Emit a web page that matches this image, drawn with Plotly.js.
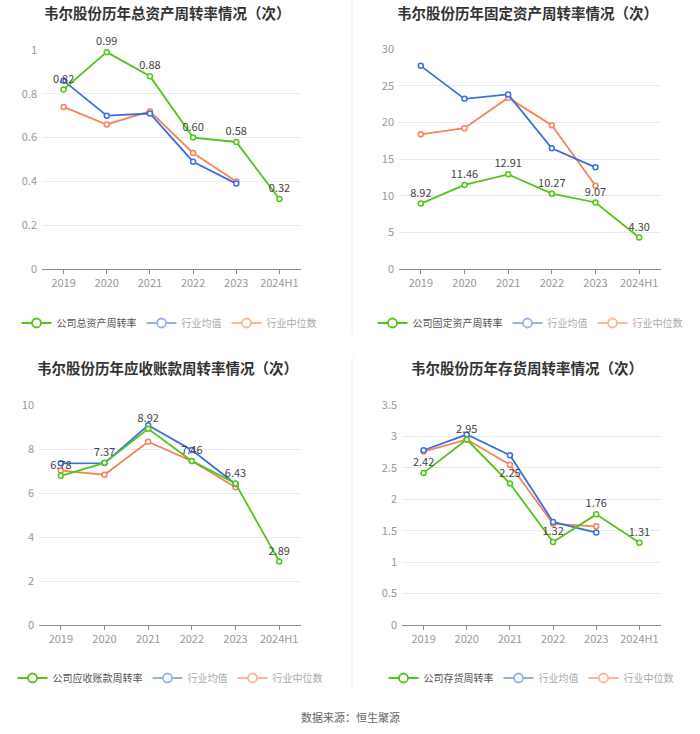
<!DOCTYPE html>
<html>
<head>
<meta charset="utf-8">
<script src="https://cdn.plot.ly/plotly-3.0.1.min.js"></script>
<style>html,body{margin:0;padding:0;background:#fff;}#chart{width:700px;height:734px;}</style>
</head>
<body>
<div id="chart"></div>
<script>
// ---- data ----
const categories = ["2019", "2020", "2021", "2022", "2023", "2024H1"];

const titles = [
  "韦尔股份历年总资产周转率情况（次）",
  "韦尔股份历年固定资产周转率情况（次）",
  "韦尔股份历年应收账款周转率情况（次）",
  "韦尔股份历年存货周转率情况（次）"
];
const companyNames = ["公司总资产周转率", "公司固定资产周转率", "公司应收账款周转率", "公司存货周转率"];
const meanName = "行业均值";
const medianName = "行业中位数";

const totalAssetCompany = [0.82, 0.99, 0.88, 0.60, 0.58, 0.32];
const totalAssetMean    = [0.86, 0.70, 0.71, 0.49, 0.39];
const totalAssetMedian  = [0.74, 0.66, 0.72, 0.53, 0.40];

const fixedAssetCompany = [8.92, 11.46, 12.91, 10.27, 9.07, 4.30];
const fixedAssetMean    = [27.7, 23.2, 23.8, 16.45, 13.86];
const fixedAssetMedian  = [18.36, 19.2, 23.36, 19.6, 11.36];

const receivableCompany = [6.78, 7.37, 8.92, 7.46, 6.43, 2.89];
const receivableMean    = [7.35, 7.36, 9.08, 7.95, 6.41];
const receivableMedian  = [7.02, 6.83, 8.33, 7.45, 6.26];

const inventoryCompany = [2.42, 2.95, 2.25, 1.32, 1.76, 1.31];
const inventoryMean    = [2.78, 3.03, 2.70, 1.64, 1.47];
const inventoryMedian  = [2.76, 2.95, 2.55, 1.61, 1.57];

const yMax  = [1, 30, 10, 3.5];
const yStep = [0.2, 5, 2, 0.5];

// ---- styling / layout ----
const W = 700, H = 734;
const GREEN = "#52c41a", BLUE = "#3b6fe0", ORANGE = "#f6845a";
const GREEN_L = "#52c41a", BLUE_L = "#93b2f3", ORANGE_L = "#fbb69c";
const FONT = "Noto Sans CJK SC, Noto Sans, sans-serif";

// pixel boxes [left, right, top, bottom]
const boxes = [
  [42, 301, 50, 269],
  [399, 661, 49, 269],
  [39, 301, 405, 625],
  [402, 661, 405, 625]
];
const titlePos = [[167, 12], [527, 12], [167, 367], [527, 367]];
const legendPos = [[169, 323], [530, 323], [170, 678], [531, 678]];

const series = [
  [totalAssetCompany, totalAssetMean, totalAssetMedian],
  [fixedAssetCompany, fixedAssetMean, fixedAssetMedian],
  [receivableCompany, receivableMean, receivableMedian],
  [inventoryCompany, inventoryMean, inventoryMedian]
];

const px = x => x / W;
const py = y => 1 - y / H;

const traces = [];
const layout = {
  width: W, height: H,
  margin: {l: 0, r: 0, t: 0, b: 0},
  paper_bgcolor: "#fff", plot_bgcolor: "#fff",
  font: {family: FONT, size: 11, color: "#999"},
  showlegend: true,
  annotations: [],
  shapes: []
};

for (let i = 0; i < 4; i++) {
  const n = i + 1;
  const xa = n === 1 ? "x" : "x" + n;
  const ya = n === 1 ? "y" : "y" + n;
  const lg = n === 1 ? "legend" : "legend" + n;
  const b = boxes[i];
  layout["xaxis" + (n === 1 ? "" : n)] = {
    domain: [px(b[0]), px(b[1])],
    anchor: ya,
    type: "category",
    range: [-0.5, 5.5],
    showline: true, linecolor: "#8c8c8c", linewidth: 1,
    ticks: "outside", ticklen: 4, tickcolor: "#8c8c8c",
    showgrid: false, zeroline: false,
    tickfont: {size: 11, color: "#999"},
    fixedrange: true
  };
  layout["yaxis" + (n === 1 ? "" : n)] = {
    domain: [py(b[3]), py(b[2])],
    anchor: xa,
    range: [0, yMax[i]],
    dtick: yStep[i], tick0: 0,
    showline: false, ticks: "",
    showgrid: true, gridcolor: "#e6ebf5", gridwidth: 1,
    zeroline: false,
    tickfont: {size: 11, color: "#999"},
    ticklabelstandoff: 4,
    fixedrange: true
  };
  const [comp, mean, med] = series[i];
  const cats5 = categories.slice(0, mean.length);
  const mk = c => ({symbol: "circle", size: 5, color: "#fff", line: {color: c, width: 1.5}});
  // industry median
  traces.push({x: cats5, y: med, xaxis: xa, yaxis: ya, type: "scatter", mode: "lines+markers",
    line: {color: ORANGE, width: 1.8}, marker: mk(ORANGE), showlegend: false, cliponaxis: false, hoverinfo: "skip"});
  // industry mean
  traces.push({x: cats5, y: mean, xaxis: xa, yaxis: ya, type: "scatter", mode: "lines+markers",
    line: {color: BLUE, width: 1.8}, marker: mk(BLUE), showlegend: false, cliponaxis: false, hoverinfo: "skip"});
  // company
  traces.push({x: categories, y: comp, xaxis: xa, yaxis: ya, type: "scatter", mode: "lines+markers+text",
    line: {color: GREEN, width: 1.8}, marker: mk(GREEN),
    text: comp.map(v => v.toFixed(2)), textposition: "top center",
    textfont: {size: 11, color: "#444"},
    showlegend: false, cliponaxis: false, hoverinfo: "skip"});

  // legend entries
  const lmk = c => ({symbol: "circle", size: 9, color: "#fff", line: {color: c, width: 1.8}});
  const legendItems = [
    [companyNames[i], GREEN_L, "#555"],
    [meanName, BLUE_L, "#aaa"],
    [medianName, ORANGE_L, "#aaa"]
  ];
  legendItems.forEach(([nm, c, tc]) => {
    traces.push({x: [null], y: [null], xaxis: xa, yaxis: ya, type: "scatter", mode: "lines+markers",
      name: '<span style="color:' + tc + '">' + nm + '</span>',
      line: {color: c, width: 1.8}, marker: lmk(c), legend: lg, showlegend: true, hoverinfo: "skip"});
  });
  layout[lg] = {
    orientation: "h",
    x: px(legendPos[i][0]), y: py(legendPos[i][1]),
    xanchor: "center", yanchor: "middle",
    font: {size: 10, color: "#aaa", family: FONT},
    itemwidth: 30, itemclick: false, itemdoubleclick: false,
    bgcolor: "rgba(0,0,0,0)", tracegroupgap: 0
  };

  // title
  layout.annotations.push({
    xref: "paper", yref: "paper", x: px(titlePos[i][0]), y: py(titlePos[i][1]),
    xanchor: "center", yanchor: "middle", showarrow: false,
    text: titles[i], font: {size: 14.5, color: "#333", family: FONT, weight: "bold"}
  });
}

// footer
layout.annotations.push({
  xref: "paper", yref: "paper", x: px(350), y: py(717), xanchor: "center", yanchor: "middle",
  showarrow: false, text: "数据来源：恒生聚源", font: {size: 11, color: "#666", family: FONT}
});

// separators
layout.shapes.push({type: "line", xref: "paper", yref: "paper", x0: px(352), x1: px(352), y0: py(0), y1: py(335), line: {color: "#eeeeee", width: 1}});
layout.shapes.push({type: "line", xref: "paper", yref: "paper", x0: px(352), x1: px(352), y0: py(356), y1: py(690), line: {color: "#eeeeee", width: 1}});

Plotly.newPlot("chart", traces, layout, {staticPlot: true, displayModeBar: false});
</script>
</body>
</html>
